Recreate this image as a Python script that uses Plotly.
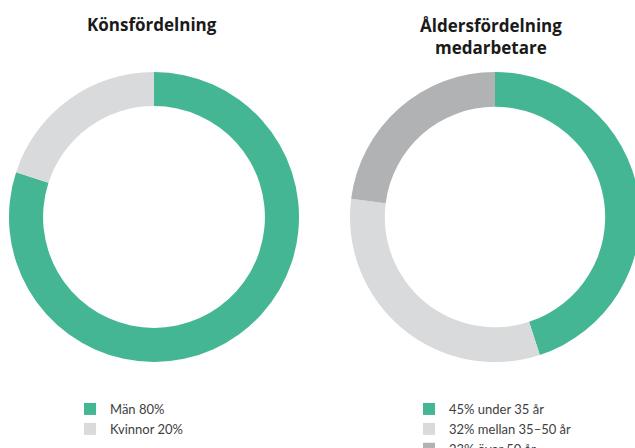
import plotly.graph_objects as go

# Data
gender_labels = ["Män 80%", "Kvinnor 20%"]
gender_values = [80, 20]
age_labels = ["45% under 35 år", "32% mellan 35–50 år", "23% över 50 år"]
age_values = [45, 32, 23]

title_left = "Könsfördelning"
title_right = "Åldersfördelning<br>medarbetare"

GREEN = "#45b694"
LIGHT = "#d9dadb"
DARK = "#b1b2b4"

W, H = 645, 448

def dom_x(x0, x1):
    return [x0 / W, x1 / W]

def dom_y(top, bottom):
    return [(H - bottom) / H, (H - top) / H]

fig = go.Figure()
fig.add_trace(go.Pie(
    labels=gender_labels, values=gender_values,
    hole=0.765, sort=False, direction="clockwise", rotation=0,
    marker=dict(colors=[GREEN, LIGHT], line=dict(width=0)),
    textinfo="none", hoverinfo="label",
    domain=dict(x=dom_x(9, 299), y=dom_y(72, 362)),
    legend="legend",
))
fig.add_trace(go.Pie(
    labels=age_labels, values=age_values,
    hole=0.76, sort=False, direction="clockwise", rotation=0,
    marker=dict(colors=[GREEN, LIGHT, DARK], line=dict(width=0)),
    textinfo="none", hoverinfo="label",
    domain=dict(x=dom_x(350, 640), y=dom_y(72, 362)),
    legend="legend2",
))

legend_font = dict(family="Lato, sans-serif", size=13, color="#404040")
title_font = dict(family="Open Sans, sans-serif", size=17, color="#1a1a1a")
fig.update_layout(
    width=W, height=H,
    margin=dict(l=0, r=0, t=0, b=0, autoexpand=False),
    paper_bgcolor="white",
    showlegend=True,
    legend=dict(x=70 / W, y=(H - 394) / H, xanchor="left", yanchor="top",
                font=legend_font, bgcolor="rgba(0,0,0,0)", tracegroupgap=0),
    legend2=dict(x=409 / W, y=(H - 394) / H, xanchor="left", yanchor="top",
                 font=legend_font, bgcolor="rgba(0,0,0,0)", tracegroupgap=0),
    annotations=[
        dict(text="<b>" + title_left + "</b>", x=152 / W, y=(H - 25) / H,
             xref="paper", yref="paper", xanchor="center", yanchor="middle",
             showarrow=False, font=title_font),
        dict(text="<b>" + title_right + "</b>", x=491 / W, y=(H - 36) / H,
             xref="paper", yref="paper", xanchor="center", yanchor="middle",
             showarrow=False, font=title_font),
    ],
)

fig.write_html(
    "out.html",
    config={"displayModeBar": False},
    post_script="document.body.style.margin='0';document.body.style.overflow='hidden';"
                "document.documentElement.style.overflow='hidden';",
)
